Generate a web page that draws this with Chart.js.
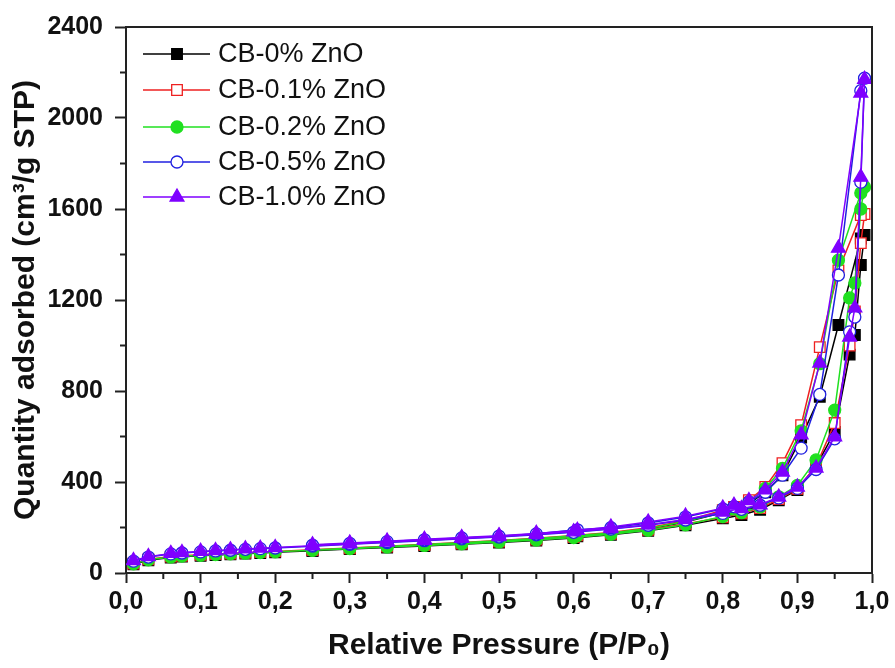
<!DOCTYPE html>
<html lang="en">
<head>
    <meta charset="UTF-8">
    <title>Nitrogen isotherms</title>
    <script src="https://cdn.jsdelivr.net/npm/chart.js"></script>
    <style>
        html, body { margin: 0; padding: 0; background: #fff; }
        #wrap { width: 895px; height: 668px; }
    </style>
</head>
<body>
    <div id="wrap"><canvas id="isoChart" width="895" height="668"></canvas></div>

    <script>
        // relative pressure points (adsorption up, desorption down)
        const adsP = [0.01, 0.03, 0.06, 0.075, 0.10, 0.12, 0.14, 0.16, 0.18, 0.20, 0.25, 0.30, 0.35, 0.40, 0.45, 0.50,
                      0.55, 0.60, 0.65, 0.70, 0.75, 0.80, 0.825, 0.85, 0.875, 0.90, 0.925, 0.95, 0.97, 0.977, 0.985, 0.99];
        const desP = [0.985, 0.955, 0.93, 0.905, 0.88, 0.857, 0.835, 0.815, 0.80, 0.75, 0.70, 0.65, 0.605, 0.55, 0.50,
                      0.45, 0.40, 0.35, 0.30, 0.25];

        const labels = ["CB-0% ZnO", "CB-0.1% ZnO", "CB-0.2% ZnO", "CB-0.5% ZnO", "CB-1.0% ZnO"];

        // quantity adsorbed (cm3/g STP)
        const ads0  = [38, 56, 68, 72, 76, 79, 82, 85, 88, 91, 98, 105, 112, 119, 126, 134, 143, 154, 168, 186, 210,
                       240, 255, 278, 320, 365, 470, 620, 960, 1046, 1354, 1486];
        const des0  = [1470, 1090, 775, 595, 430, 355, 305, 280, 266, 224, 193, 173, 161, 149, 139, 130, 122, 114, 106, 98];
        const ads01 = [42, 60, 72, 76, 80, 83, 86, 89, 92, 95, 102, 109, 116, 123, 130, 138, 147, 158, 172, 190, 215,
                       245, 262, 285, 325, 370, 470, 659, 1000, 1150, 1450, 1578];
        const des01 = [1573, 1330, 993, 650, 483, 378, 320, 290, 276, 230, 199, 178, 166, 153, 143, 134, 126, 118, 110, 102];
        const ads02 = [40, 58, 70, 74, 78, 81, 84, 87, 90, 93, 100, 107, 114, 121, 128, 136, 145, 156, 170, 188, 212,
                       248, 265, 290, 335, 385, 497, 716, 1209, 1275, 1600, 1697];
        const des02 = [1670, 1375, 920, 625, 460, 372, 312, 282, 268, 226, 196, 176, 165, 152, 142, 133, 125, 117, 109, 101];
        const ads05 = [52, 70, 84, 88, 93, 97, 100, 104, 107, 110, 118, 126, 134, 142, 150, 158, 168, 179, 193, 210, 233,
                       262, 280, 298, 330, 372, 455, 590, 1060, 1125, 1718, 2175];
        const des05 = [2120, 1310, 785, 549, 430, 355, 312, 292, 282, 246, 220, 199, 190, 172, 162, 154, 146, 138, 130, 122];
        const ads10 = [55, 72, 86, 90, 95, 99, 102, 106, 109, 112, 120, 128, 136, 144, 152, 160, 170, 181, 195, 212, 235,
                       268, 283, 300, 334, 378, 461, 598, 1037, 1165, 1740, 2170];
        const des10 = [2110, 1428, 923, 607, 444, 365, 318, 298, 285, 250, 224, 202, 188, 174, 164, 156, 148, 140, 132, 124];

        const xTicks = [0, 0.1, 0.2, 0.3, 0.4, 0.5, 0.6, 0.7, 0.8, 0.9, 1.0];
        const yTicks = [0, 400, 800, 1200, 1600, 2000, 2400];

        const styles = [
            { color: '#000000', shape: 'rect',     r: 7.5, open: false },
            { color: '#ee2020', shape: 'rect',     r: 7.5, open: true  },
            { color: '#20e020', shape: 'circle',   r: 6,   open: false },
            { color: '#2020e0', shape: 'circle',   r: 6,   open: true  },
            { color: '#7f00ff', shape: 'triangle', r: 8,   open: false }
        ];

        function isotherm(ads, des) {
            const pts = adsP.map((p, i) => ({ x: p, y: ads[i] }));
            return pts.concat(desP.map((p, i) => ({ x: p, y: des[i] })));
        }

        const series = [[ads0, des0], [ads01, des01], [ads02, des02], [ads05, des05], [ads10, des10]];

        const datasets = series.map((s, i) => ({
            label: labels[i],
            data: isotherm(s[0], s[1]),
            borderColor: styles[i].color,
            backgroundColor: styles[i].open ? '#ffffff' : styles[i].color,
            borderWidth: 1.5,
            pointStyle: styles[i].shape,
            pointRadius: styles[i].r,
            pointBorderWidth: 1.3,
            pointBorderColor: styles[i].color,
            pointBackgroundColor: styles[i].open ? '#ffffff' : styles[i].color,
            tension: 0,
            order: 4 - i
        }));

        function marker(ctx, st, x, y) {
            ctx.beginPath();
            if (st.shape === 'rect') {
                const h = st.r * Math.SQRT1_2;
                ctx.rect(x - h, y - h, 2 * h, 2 * h);
            } else if (st.shape === 'circle') {
                ctx.arc(x, y, st.r, 0, Math.PI * 2);
            } else {
                ctx.moveTo(x, y - st.r);
                ctx.lineTo(x + st.r * 0.866, y + st.r * 0.5);
                ctx.lineTo(x - st.r * 0.866, y + st.r * 0.5);
                ctx.closePath();
            }
            ctx.fillStyle = st.open ? '#ffffff' : st.color;
            ctx.fill();
            ctx.lineWidth = 1.3;
            ctx.strokeStyle = st.color;
            ctx.stroke();
        }

        // legend in upper left of the plot, line-marker-line like Origin
        const legendBox = {
            id: 'legendBox',
            afterDraw(chart) {
                const ctx = chart.ctx;
                ctx.save();
                const rows = [54, 90, 127, 162, 197];
                labels.forEach((txt, i) => {
                    const y = rows[i];
                    ctx.beginPath();
                    ctx.moveTo(143, y);
                    ctx.lineTo(210, y);
                    ctx.strokeStyle = styles[i].color;
                    ctx.lineWidth = 1.5;
                    ctx.stroke();
                    marker(ctx, styles[i], 177, y);
                    ctx.fillStyle = '#111';
                    ctx.font = '27px "Liberation Sans", Arial, sans-serif';
                    ctx.textBaseline = 'middle';
                    ctx.textAlign = 'left';
                    ctx.fillText(txt, 218, y + 1);
                });
                ctx.restore();
            }
        };

        // box frame and minor ticks
        const frame = {
            id: 'frame',
            afterDraw(chart) {
                const { ctx, chartArea: a, scales } = chart;
                ctx.save();
                ctx.strokeStyle = '#222';
                ctx.lineWidth = 2;
                ctx.beginPath();
                ctx.moveTo(a.left, a.top);
                ctx.lineTo(a.right, a.top);
                ctx.lineTo(a.right, a.bottom);
                ctx.stroke();
                ctx.beginPath();
                for (let k = 0; k < 10; k++) {
                    const px = scales.x.getPixelForValue(xTicks[k] + 0.05);
                    ctx.moveTo(px, a.bottom);
                    ctx.lineTo(px, a.bottom + 6);
                }
                for (let k = 0; k < 6; k++) {
                    const py = scales.y.getPixelForValue(yTicks[k] + 200);
                    ctx.moveTo(a.left, py);
                    ctx.lineTo(a.left - 6, py);
                }
                ctx.stroke();
                ctx.restore();
            }
        };

        const tickFont = { family: '"Liberation Sans", Arial, sans-serif', size: 25, weight: 'bold' };
        const titleFont = { family: '"Liberation Sans", Arial, sans-serif', size: 30, weight: 'bold' };

        new Chart(document.getElementById('isoChart'), {
            type: 'line',
            data: { datasets: datasets },
            options: {
                responsive: false,
                animation: false,
                layout: { padding: { left: 0, right: 23, top: 27, bottom: 0 } },
                plugins: { legend: { display: false }, tooltip: { enabled: false } },
                scales: {
                    x: {
                        type: 'linear',
                        min: 0, max: 1,
                        afterFit(scale) { scale.height = 95; },
                        afterBuildTicks(scale) { scale.ticks = xTicks.map(v => ({ value: v })); },
                        ticks: {
                            color: '#111', font: tickFont, padding: 4, maxRotation: 0,
                            callback: v => v.toFixed(1).replace('.', ',')
                        },
                        grid: { drawOnChartArea: false, tickLength: 10, tickWidth: 2, tickColor: '#222' },
                        border: { color: '#222', width: 2 },
                        title: { display: true, text: 'Relative Pressure (P/P\u2080)', color: '#111', font: titleFont, padding: { top: 4 } }
                    },
                    y: {
                        min: 0, max: 2400,
                        afterFit(scale) { scale.width = 126; },
                        afterBuildTicks(scale) { scale.ticks = yTicks.map(v => ({ value: v })); },
                        ticks: { color: '#111', font: tickFont, padding: 12, callback: v => String(v) },
                        grid: { drawOnChartArea: false, tickLength: 11, tickWidth: 2, tickColor: '#222' },
                        border: { color: '#222', width: 2 },
                        title: { display: true, text: 'Quantity adsorbed (cm\u00b3/g STP)', color: '#111', font: titleFont, padding: { top: 8, bottom: 0 } }
                    }
                }
            },
            plugins: [frame, legendBox]
        });
    </script>
</body>
</html>
